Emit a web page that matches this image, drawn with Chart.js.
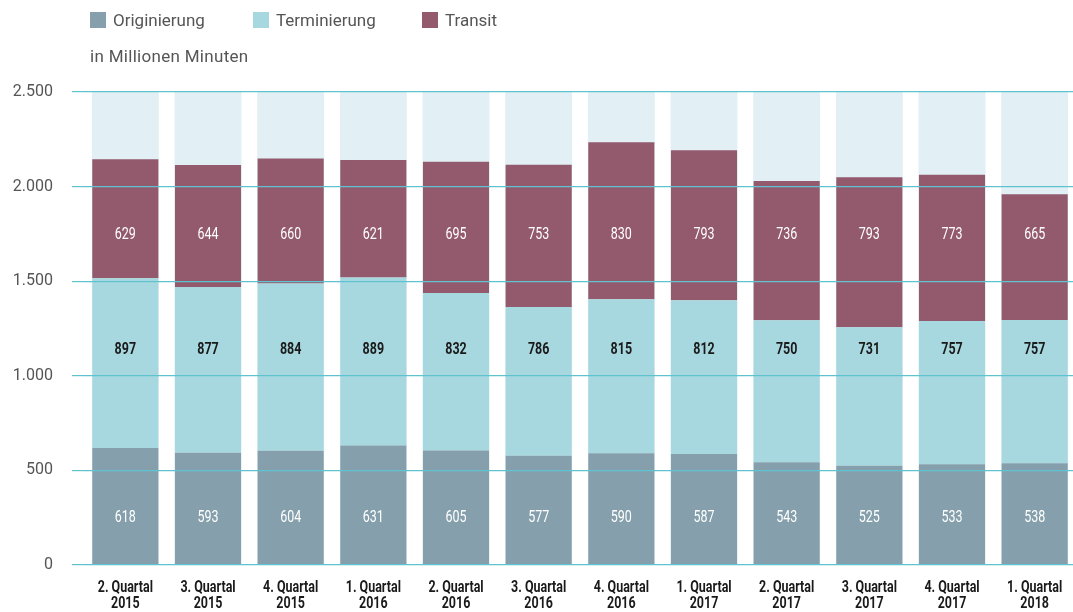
<!DOCTYPE html>
<html>
<head>
<meta charset="utf-8">
<script src="https://cdn.jsdelivr.net/npm/chart.js@4"></script>
<style>
  html, body { margin: 0; padding: 0; background: #fff; overflow: hidden; }
  #wrap { position: relative; width: 1073px; height: 612px; overflow: hidden; }
  #chart { position: absolute; left: 0; top: 0; }
  .legend { position: absolute; top: 10px; left: 90px; font-family: Roboto, "Liberation Sans", sans-serif; font-size: 17px; color: #555; }
  .legend span.item { position: absolute; white-space: nowrap; top: 0; }
  .legend i { display: inline-block; width: 16px; height: 16px; vertical-align: -2px; margin-right: 7px; }
  .unit { position: absolute; top: 46px; left: 90px; font-family: Roboto, "Liberation Sans", sans-serif; font-size: 17px; color: #555; letter-spacing: 0.3px; }
</style>
</head>
<body>
<div id="wrap">
  <canvas id="chart" width="1080" height="612"></canvas>
  <div class="legend" id="legend"></div>
  <div class="unit">in Millionen Minuten</div>
</div>
<script>
// Daten in Millionen Minuten
const quartale = [
    ['2. Quartal', '2015'], ['3. Quartal', '2015'], ['4. Quartal', '2015'],
    ['1. Quartal', '2016'], ['2. Quartal', '2016'], ['3. Quartal', '2016'],
    ['4. Quartal', '2016'], ['1. Quartal', '2017'], ['2. Quartal', '2017'],
    ['3. Quartal', '2017'], ['4. Quartal', '2017'], ['1. Quartal', '2018']
];
const originierung = [618, 593, 604, 631, 605, 577, 590, 587, 543, 525, 533, 538];
const terminierung = [897, 877, 884, 889, 832, 786, 815, 812, 750, 731, 757, 757];
const transit = [629, 644, 660, 621, 695, 753, 830, 793, 736, 793, 773, 665];
const hintergrund = [2500, 2500, 2500, 2500, 2500, 2500, 2500, 2500, 2500, 2500, 2500, 2500];
const yTicks = [0, 500, 1000, 1500, 2000, 2500];

const farben = {
    originierung: '#85a0ac',
    terminierung: '#a8d8df',
    transit: '#935a6e',
    hintergrund: '#e2f0f5'
};

const schrift = 'Roboto, "Liberation Sans", sans-serif';

// Legende als HTML
const legendItems = [
    { text: 'Originierung', color: farben.originierung, x: 0 },
    { text: 'Terminierung', color: farben.terminierung, x: 163 },
    { text: 'Transit', color: farben.transit, x: 332 }
];
const legendEl = document.getElementById('legend');
legendItems.forEach(item => {
    const s = document.createElement('span');
    s.className = 'item';
    s.style.left = item.x + 'px';
    s.innerHTML = '<i style="background:' + item.color + '"></i>' + item.text;
    legendEl.appendChild(s);
});

function formatDe(v) {
    return String(v).replace(/\B(?=(\d{3})+(?!\d))/g, '.');
}

// schmal gezeichneter Text (Condensed-Schrift nachgebildet)
function schmalText(ctx, text, x, y, sx) {
    ctx.save();
    ctx.translate(x, y);
    ctx.scale(sx, 1);
    ctx.fillText(text, 0, 0);
    ctx.restore();
}

// Werte in den Balken (feste Höhe je Segment wie im Original)
const valueLabels = {
    id: 'valueLabels',
    afterDatasetsDraw(chart) {
        const ctx = chart.ctx;
        const y = chart.scales.y;
        const rows = [
            { ds: 1, at: 250, color: '#ffffff', weight: 'normal' },
            { ds: 2, at: 1135, color: '#1a1a1a', weight: 'bold' },
            { ds: 3, at: 1745, color: '#ffffff', weight: 'normal' }
        ];
        ctx.save();
        ctx.textAlign = 'center';
        ctx.textBaseline = 'middle';
        rows.forEach(r => {
            const meta = chart.getDatasetMeta(r.ds);
            ctx.fillStyle = r.color;
            ctx.font = r.weight + ' 16px ' + schrift;
            meta.data.forEach((bar, i) => {
                schmalText(ctx, String(chart.data.datasets[r.ds].data[i]), bar.x, y.getPixelForValue(r.at), 0.78);
            });
        });
        ctx.restore();
    }
};

// Quartalsbeschriftung unter den Balken
const xLabels = {
    id: 'xLabels',
    afterDraw(chart) {
        const ctx = chart.ctx;
        const x = chart.scales.x;
        const top = chart.chartArea.bottom;
        ctx.save();
        ctx.textAlign = 'center';
        ctx.textBaseline = 'middle';
        ctx.fillStyle = '#1a1a1a';
        ctx.font = 'bold 16px ' + schrift;
        quartale.forEach((lines, i) => {
            const cx = x.getPixelForValue(i);
            lines.forEach((t, j) => {
                schmalText(ctx, t, cx, top + 23 + j * 15.5, 0.78);
            });
        });
        ctx.restore();
    }
};

const ctx = document.getElementById('chart').getContext('2d');
const chart = new Chart(ctx, {
    type: 'bar',
    data: {
        labels: quartale,
        datasets: [
            {
                label: 'Hintergrund',
                data: hintergrund,
                backgroundColor: farben.hintergrund,
                stack: 'bg',
                order: 5,
                barPercentage: 0.81
            },
            {
                label: 'Originierung',
                data: originierung,
                backgroundColor: farben.originierung,
                stack: 'main',
                order: 1
            },
            {
                label: 'Terminierung',
                data: terminierung,
                backgroundColor: farben.terminierung,
                stack: 'main',
                order: 1
            },
            {
                label: 'Transit',
                data: transit,
                backgroundColor: farben.transit,
                stack: 'main',
                order: 1
            }
        ]
    },
    options: {
        responsive: false,
        animation: false,
        grouped: false,
        datasets: {
            bar: { barPercentage: 0.8, categoryPercentage: 1 }
        },
        layout: { padding: { top: 92, right: 4, left: 0, bottom: 0 } },
        plugins: {
            legend: { display: false },
            tooltip: { enabled: false }
        },
        scales: {
            x: {
                stacked: true,
                grid: { display: false, drawTicks: false },
                border: { display: false },
                afterFit(scale) {
                    scale.height = 47;
                },
                ticks: { display: false }
            },
            y: {
                stacked: true,
                min: 0,
                max: 2500,
                afterBuildTicks(scale) {
                    scale.ticks = yTicks.map(v => ({ value: v }));
                },
                afterFit(scale) {
                    scale.width = 84;
                },
                grid: { color: '#5fc3cf', lineWidth: 1.2, drawTicks: true, tickLength: 12, z: 1 },
                border: { display: false },
                ticks: {
                    color: '#555',
                    padding: 19,
                    font: { family: schrift, size: 16 },
                    callback: v => formatDe(v)
                }
            }
        }
    },
    plugins: [valueLabels, xLabels]
});
</script>
</body>
</html>
